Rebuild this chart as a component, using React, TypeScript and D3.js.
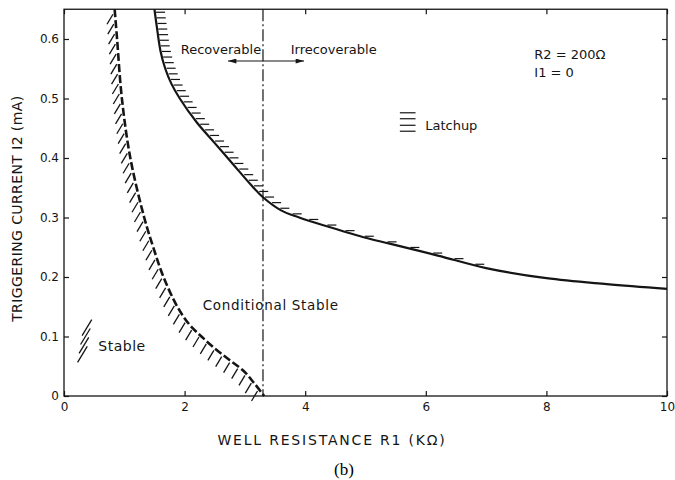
import { useEffect, useRef } from "react";
import * as d3 from "d3";

const X_TICKS = [0, 2, 4, 6, 8, 10];
const Y_TICKS = [0, 0.1, 0.2, 0.3, 0.4, 0.5, 0.6];

// boundary between "Stable" and "Conditional Stable"
const stableR1 = [0.84, 0.88, 0.96, 1.1, 1.33, 1.48, 1.65, 1.88, 2.08, 2.28, 2.5, 2.75, 2.98, 3.15, 3.32];
const stableI2 = [0.65, 0.6, 0.5, 0.4, 0.3, 0.25, 0.2, 0.15, 0.12, 0.1, 0.08, 0.06, 0.042, 0.022, 0];

// latchup boundary
const latchR1 = [1.5, 1.54, 1.6, 1.68, 1.78, 1.92, 2.2, 2.5, 2.8, 3.1, 3.3, 3.6, 3.9, 4.4, 5.0, 5.4, 6.2, 7, 8, 9, 10];
const latchI2 = [0.65, 0.62, 0.58, 0.55, 0.525, 0.5, 0.46, 0.425, 0.39, 0.355, 0.334, 0.312, 0.3, 0.284, 0.266, 0.256, 0.236, 0.215, 0.198, 0.188, 0.18];

// recoverable / irrecoverable split
const SPLIT_R1 = 3.3;

const W = 675;
const H = 480;
const FONT = "'DejaVu Sans', sans-serif";
const INK = "#151515";

export default function App() {
  const svgRef = useRef<SVGSVGElement | null>(null);

  useEffect(() => {
    const svg = d3.select(svgRef.current);
    svg.selectAll("*").remove();

    const x = d3.scaleLinear().domain([0, 10]).range([64, 667]);
    const y = d3.scaleLinear().domain([0, 0.65]).range([396, 9.25]);

    const defs = svg.append("defs");
    defs
      .append("marker")
      .attr("id", "arr")
      .attr("viewBox", "0 0 10 6")
      .attr("refX", 10)
      .attr("refY", 3)
      .attr("markerWidth", 10)
      .attr("markerHeight", 5)
      .attr("markerUnits", "userSpaceOnUse")
      .attr("orient", "auto-start-reverse")
      .append("path")
      .attr("d", "M0,0 L10,3 L0,6 Z")
      .attr("fill", INK);

    // frame
    svg
      .append("rect")
      .attr("x", x(0))
      .attr("y", y(0.65))
      .attr("width", x(10) - x(0))
      .attr("height", y(0) - y(0.65))
      .attr("fill", "none")
      .attr("stroke", INK)
      .attr("stroke-width", 1.3);

    const fmtY = (d: number) => (d === 0 ? "0" : d3.format(".1f")(d));

    const styleAxis = (g: d3.Selection<SVGGElement, unknown, null, undefined>) => {
      g.select(".domain").remove();
      g.selectAll("line").attr("stroke", INK).attr("stroke-width", 1.2);
      g.selectAll("text").attr("fill", INK).style("font-family", FONT).style("font-size", "12px");
    };

    svg
      .append("g")
      .attr("transform", `translate(${x(0)},0)`)
      .call(d3.axisLeft(y).tickValues(Y_TICKS).tickSizeInner(-5).tickSizeOuter(0).tickPadding(5).tickFormat((d) => fmtY(+d)))
      .call(styleAxis);

    svg
      .append("g")
      .attr("transform", `translate(${x(10)},0)`)
      .call(d3.axisRight(y).tickValues(Y_TICKS).tickSizeInner(-5).tickSizeOuter(0).tickFormat(() => ""))
      .call(styleAxis);

    svg
      .append("g")
      .attr("transform", `translate(0,${y(0)})`)
      .call(d3.axisBottom(x).tickValues(X_TICKS).tickSizeInner(-5).tickSizeOuter(0).tickPadding(6).tickFormat((d) => String(d)))
      .call(styleAxis);

    svg
      .append("g")
      .attr("transform", `translate(0,${y(0.65)})`)
      .call(d3.axisTop(x).tickValues(X_TICKS).tickSizeInner(-5).tickSizeOuter(0).tickFormat(() => ""))
      .call(styleAxis);

    const line = d3
      .line<[number, number]>()
      .x((d) => x(d[0]))
      .y((d) => y(d[1]))
      .curve(d3.curveCatmullRom.alpha(0.5));

    // stable boundary: dashed heavy line with slanted hatching on the stable side
    const stablePts: [number, number][] = stableR1.map((r, i) => [r, stableI2[i]]);
    const stablePath = svg
      .append("path")
      .datum(stablePts)
      .attr("d", line)
      .attr("fill", "none")
      .attr("stroke", INK)
      .attr("stroke-width", 2.6)
      .attr("stroke-dasharray", "8,3");

    const sNode = stablePath.node() as SVGPathElement;
    const sLen = sNode.getTotalLength();
    const sHatch = d3.range(4, sLen - 2, 10).map((l) => sNode.getPointAtLength(l));
    svg
      .append("g")
      .selectAll("line")
      .data(sHatch)
      .join("line")
      .attr("x1", (p) => p.x - 2)
      .attr("y1", (p) => p.y + 1)
      .attr("x2", (p) => p.x - 8)
      .attr("y2", (p) => p.y + 11)
      .attr("stroke", INK)
      .attr("stroke-width", 1.3);

    // latchup boundary: solid line with horizontal hatching on the latchup side
    const latchPts: [number, number][] = latchR1.map((r, i) => [r, latchI2[i]]);
    const latchPath = svg
      .append("path")
      .datum(latchPts)
      .attr("d", line)
      .attr("fill", "none")
      .attr("stroke", INK)
      .attr("stroke-width", 2.2);

    const lNode = latchPath.node() as SVGPathElement;
    const lLen = lNode.getTotalLength();
    const lSamples = d3.range(0, lLen, 0.5).map((l) => lNode.getPointAtLength(l));
    const hatchYs = d3.range(y(0.65) + 4, y(0.215), 5.6);
    const lHatch = hatchYs
      .map((ty) => {
        const p = lSamples.find((s) => s.y >= ty);
        return p ? { x: p.x, y: ty } : null;
      })
      .filter((p): p is { x: number; y: number } => p !== null);
    svg
      .append("g")
      .selectAll("line")
      .data(lHatch)
      .join("line")
      .attr("x1", (p) => p.x + 1)
      .attr("y1", (p) => p.y - 1)
      .attr("x2", (p) => p.x + 10)
      .attr("y2", (p) => p.y - 1)
      .attr("stroke", INK)
      .attr("stroke-width", 1.2);

    // split line
    svg
      .append("line")
      .attr("x1", x(SPLIT_R1))
      .attr("x2", x(SPLIT_R1))
      .attr("y1", y(0.65))
      .attr("y2", y(0))
      .attr("stroke", INK)
      .attr("stroke-width", 1.2)
      .attr("stroke-dasharray", "12,3,2,3");

    // double arrow
    svg
      .append("line")
      .attr("x1", x(2.72))
      .attr("x2", x(3.98))
      .attr("y1", y(0.563))
      .attr("y2", y(0.563))
      .attr("stroke", INK)
      .attr("stroke-width", 1.2)
      .attr("marker-start", "url(#arr)")
      .attr("marker-end", "url(#arr)");

    const label = (tx: number, ty: number, t: string, anchor = "start", size = 13, spacing = 0) =>
      svg
        .append("text")
        .attr("x", tx)
        .attr("y", ty)
        .attr("text-anchor", anchor)
        .attr("fill", INK)
        .style("font-family", FONT)
        .style("font-size", `${size}px`)
        .style("letter-spacing", `${spacing}px`)
        .text(t);

    label(x(3.27), y(0.574), "Recoverable", "end");
    label(x(3.76), y(0.574), "Irrecoverable");
    label(x(7.8), y(0.567), "R2 = 200Ω");
    label(x(7.8), y(0.536), "I1 = 0");
    label(x(5.99), y(0.447), "Latchup");
    label(x(2.3), y(0.144), "Conditional Stable", "start", 13.5, 0.7);
    label(x(0.57), y(0.075), "Stable", "start", 14, 0.5);

    // legend hatch marks
    const latchKey = [0.476, 0.466, 0.455, 0.445];
    svg
      .append("g")
      .selectAll("line")
      .data(latchKey)
      .join("line")
      .attr("x1", x(5.57))
      .attr("x2", x(5.83))
      .attr("y1", (d) => y(d))
      .attr("y2", (d) => y(d))
      .attr("stroke", INK)
      .attr("stroke-width", 1.2);

    const stableKey = [0.115, 0.1, 0.085, 0.07];
    svg
      .append("g")
      .selectAll("line")
      .data(stableKey)
      .join("line")
      .attr("x1", (_, i) => x(0.3) - i * 1.5)
      .attr("y1", (d) => y(d) + 8)
      .attr("x2", (_, i) => x(0.46) - i * 1.5)
      .attr("y2", (d) => y(d) - 8)
      .attr("stroke", INK)
      .attr("stroke-width", 1.3);

    // axis titles
    svg
      .append("text")
      .attr("transform", `translate(22,${(y(0) + y(0.65)) / 2 + 6}) rotate(-90)`)
      .attr("text-anchor", "middle")
      .attr("fill", INK)
      .style("font-family", FONT)
      .style("font-size", "14px")
      .style("letter-spacing", "0.4px")
      .text("TRIGGERING  CURRENT  I2  (mA)");

    svg
      .append("text")
      .attr("x", 332)
      .attr("y", 445)
      .attr("text-anchor", "middle")
      .attr("fill", INK)
      .style("font-family", FONT)
      .style("font-size", "14px")
      .style("letter-spacing", "1.8px")
      .text("WELL  RESISTANCE  R1  (KΩ)");

    svg
      .append("text")
      .attr("x", 344)
      .attr("y", 475)
      .attr("text-anchor", "middle")
      .attr("fill", "#000")
      .style("font-family", "'Liberation Serif', serif")
      .style("font-size", "17px")
      .text("(b)");
  }, []);

  return (
    <svg
      ref={svgRef}
      width={W}
      height={H}
      viewBox={`0 0 ${W} ${H}`}
      style={{ position: "absolute", left: 0, top: 0, background: "#fff" }}
    />
  );
}
